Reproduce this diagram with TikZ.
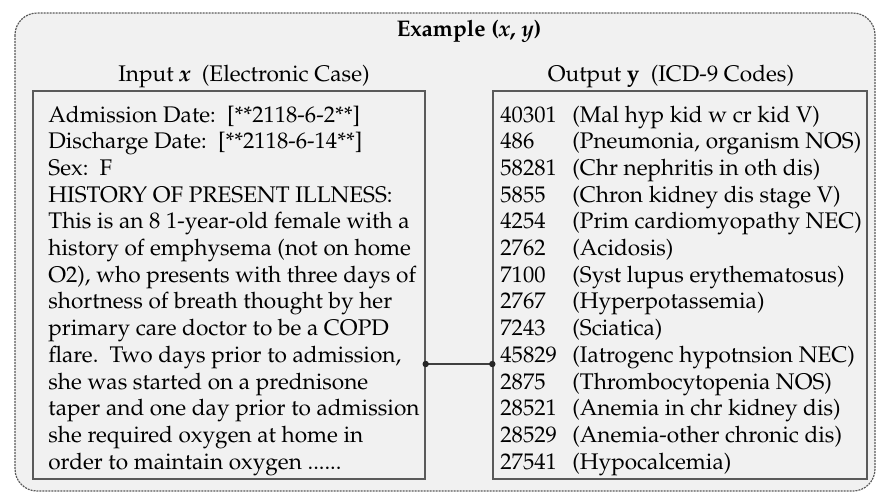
\documentclass[tikz,border=0pt]{standalone}
\usepackage{amsmath,amssymb}
\usepackage[T1]{fontenc}
\usepackage{mathpazo}
\usepackage{array}
\usetikzlibrary{positioning}
\definecolor{panelgray}{HTML}{F1F1F1}
\definecolor{framegray}{HTML}{5A5A5A}
\tikzset{
  outerframe/.style={draw=framegray, fill=panelgray, line width=0.6pt,
    dash pattern=on 1pt off 0.5pt, rounded corners=11pt},
  casebox/.style={draw=framegray, fill=panelgray, line width=0.7pt,
    minimum width=196pt, minimum height=194pt, inner sep=0pt},
  codebox/.style={draw=framegray, fill=panelgray, line width=0.7pt,
    minimum width=187pt, minimum height=194pt, inner sep=0pt},
  bodytext/.style={anchor=base west, inner sep=0pt,
    font=\fontsize{11.3}{13.35}\selectfont},
  headtext/.style={inner sep=0pt, font=\fontsize{11.3}{13.35}\selectfont},
}
\newcommand{\joindot}{1.6pt}
\newcommand{\bvar}[1]{\textbf{\itshape #1}}
\begin{document}
\begin{tikzpicture}[x=0.5pt,y=-0.5pt]
\useasboundingbox (0,0) rectangle (877,495);
\draw[outerframe] (15,13) rectangle (875,491);
\node[headtext, font=\fontsize{11.3}{13.35}\selectfont\bfseries] (title) at (469,31)
  {Example (\bvar{x}, \bvar{y})};
% the two panels
\node[casebox] (inbox) at (229,285) {};
\node[codebox] (outbox) at (680,285) {};
\node[headtext] (inhead) at (244,76) {Input \bvar{x}\ \ (Electronic Case)};
\node[headtext] (outhead) at (671,76) {Output \textbf{y}\ \ (ICD-9 Codes)};
% case text
\node[bodytext] (intext) at (48,122) {\begin{tabular}[t]{@{}l@{}}
Admission Date:\ \ [**2118-6-2**]\\
Discharge Date:\ \ [**2118-6-14**]\\
Sex:\ \ F\\
HISTORY OF PRESENT ILLNESS:\\
This is an 8 1-year-old female with a\\
history of emphysema (not on home\\
O2), who presents with three days of\\
shortness of breath thought by her\\
primary care doctor to be a COPD\\
flare.\ \ Two days prior to admission,\\
she was started on a prednisone\\
taper and one day prior to admission\\
she required oxygen at home in\\
order to maintain oxygen ......
\end{tabular}};
% code list
\node[bodytext] (outtext) at (500,122) {\begin{tabular}[t]{@{}p{36pt}@{}l@{}}
40301 & (Mal hyp kid w cr kid V)\\
486   & (Pneumonia, organism NOS)\\
58281 & (Chr nephritis in oth dis)\\
5855  & (Chron kidney dis stage V)\\
4254  & (Prim cardiomyopathy NEC)\\
2762  & (Acidosis)\\
7100  & (Syst lupus erythematosus)\\
2767  & (Hyperpotassemia)\\
7243  & (Sciatica)\\
45829 & (Iatrogenc hypotnsion NEC)\\
2875  & (Thrombocytopenia NOS)\\
28521 & (Anemia in chr kidney dis)\\
28529 & (Anemia-other chronic dis)\\
27541 & (Hypocalcemia)
\end{tabular}};
% link between the panels
\coordinate (linkin) at (inbox.east |- 0,364);
\coordinate (linkout) at (outbox.west |- 0,364);
\draw[framegray!70!black, line width=0.7pt] (linkin) -- (linkout);
\fill[black!85] (linkin) circle (\joindot) (linkout) circle (\joindot);
\end{tikzpicture}
\end{document}
